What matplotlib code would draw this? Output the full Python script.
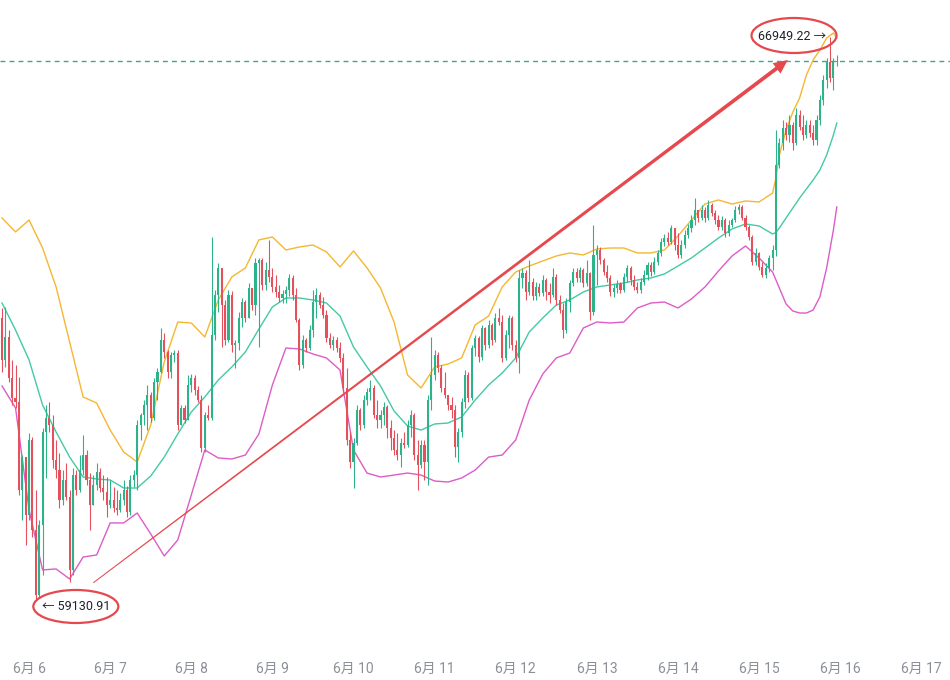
import matplotlib
matplotlib.use("Agg")
import matplotlib.pyplot as plt
import numpy as np
from matplotlib.patches import Ellipse, Polygon
from matplotlib.transforms import IdentityTransform

# hourly candles, the first one is 6月5 16:00; open of each candle = previous close
first_open = 63047
closes = [62464, 62783, 62214, 61936, 61880, 60658, 61116, 60312, 61353, 60103, 59201, 60173,
          61464, 61658, 61561, 61075, 60936, 60520, 60797, 60561, 59548, 60866, 60658, 60936,
          61144, 60797, 60451, 60728, 60908, 60686, 60630, 60451, 60520, 60409, 60381, 60520,
          60658, 60353, 60797, 60866, 61561, 61700, 61839, 61978, 61658, 62158, 62297, 62742,
          62575, 62297, 62533, 62561, 61561, 61797, 61630, 62117, 62214, 62047, 61908, 61241,
          61700, 61658, 62811, 63367, 63742, 63228, 62742, 63367, 62672, 62700, 63047, 63269,
          63047, 63464, 63228, 63811, 63853, 63506, 63714, 63617, 63478, 63408, 63325, 63381,
          63436, 63603, 63367, 63019, 62394, 62742, 62630, 62880, 63269, 63367, 63228, 63089,
          62769, 62672, 62742, 62630, 62492, 62075, 61353, 61047, 61311, 61769, 61561, 61908,
          62019, 62075, 61700, 61630, 61700, 61811, 61519, 61380, 61214, 61144, 61311, 61283,
          61561, 61700, 61144, 61005, 61283, 61047, 61908, 62255, 62533, 62353, 62075, 61978,
          61839, 61769, 61255, 61464, 61880, 62255, 61936, 62630, 62769, 62505, 62908, 62672,
          62950, 62742, 63047, 62991, 62492, 62811, 63047, 62672, 62492, 63603, 63672, 63408,
          63547, 63353, 63478, 63394, 63575, 63408, 63367, 63617, 63297, 63158, 62880, 63269,
          63533, 63686, 63603, 63714, 63533, 63672, 63130, 63922, 63992, 63853, 63686, 63603,
          63408, 63464, 63520, 63436, 63617, 63742, 63575, 63478, 63436, 63547, 63644, 63783,
          63686, 63825, 63950, 64103, 64158, 64103, 64297, 64061, 63922, 64061, 64200, 64297,
          64408, 64547, 64436, 64547, 64436, 64617, 64505, 64408, 64311, 64408, 64228, 64339,
          64408, 64547, 64589, 64436, 64311, 64172, 63825, 63950, 63756, 63644, 63742, 63881,
          63992, 65171, 65477, 65685, 65588, 65727, 65477, 65866, 65699, 65588, 65727, 65616,
          65519, 65796, 66074, 66352, 66602, 66380, 66602, 66616]
highs = [63186, 63200, 62880, 62464, 62394, 62228, 61144, 61116, 61450, 61394, 60658, 60242,
         61519, 61839, 61880, 61700, 61353, 61172, 60936, 61033, 60658, 60964, 60936, 61144,
         61422, 61214, 60894, 60866, 61033, 60964, 60866, 60839, 60797, 60700, 60658, 60616,
         60797, 60714, 60866, 60936, 61630, 61727, 61908, 62117, 62019, 62214, 62353, 62908,
         62839, 62603, 62575, 62603, 62603, 61839, 61839, 62255, 62269, 62255, 62103, 61978,
         61741, 61839, 64172, 63436, 63811, 63742, 63297, 63436, 63420, 62742, 63130, 63325,
         63297, 63533, 63464, 63881, 63881, 63881, 63825, 64131, 63742, 63644, 63506, 63436,
         63492, 63658, 63644, 63464, 63047, 62811, 62769, 62950, 63436, 63464, 63408, 63339,
         63158, 62839, 62797, 62783, 62714, 62561, 62353, 61464, 61380, 61839, 61797, 61978,
         62075, 62186, 62117, 61908, 61769, 61880, 61839, 61630, 61491, 61450, 61380, 61464,
         61630, 61769, 61727, 61353, 61353, 61353, 61978, 62783, 62603, 62575, 62394, 62297,
         61978, 61950, 61839, 61519, 61936, 62325, 62297, 62672, 62811, 62800, 62950, 62922,
         63019, 62978, 63116, 63186, 63089, 62880, 63089, 63075, 62742, 63714, 63742, 63714,
         63853, 63603, 63547, 63533, 63644, 63603, 63533, 63742, 63660, 63367, 63255, 63325,
         63575, 63742, 63742, 63756, 63742, 63853, 63686, 64339, 64061, 64033, 63881, 63783,
         63644, 63520, 63575, 63547, 63672, 63783, 63769, 63644, 63547, 63603, 63714, 63825,
         63825, 63894, 63992, 64158, 64214, 64242, 64339, 64297, 64228, 64131, 64269, 64353,
         64478, 64713, 64547, 64617, 64589, 64686, 64644, 64547, 64478, 64464, 64436, 64408,
         64436, 64603, 64630, 64617, 64478, 64339, 64200, 64019, 63964, 63825, 63811, 63922,
         64061, 65657, 65546, 65796, 65768, 65866, 65768, 65963, 65935, 65866, 65796, 65796,
         65727, 65866, 66144, 66421, 66658, 66949.22, 66658, 66699]
lows = [62297, 62367, 62158, 61839, 61797, 60589, 60242, 59895, 60242, 60006, 59130.91, 59160,
        59478, 60825, 61464, 60964, 60825, 60409, 60451, 60520, 59381, 59480, 60589, 60630,
        60866, 60728, 60103, 60451, 60658, 60630, 60520, 60284, 60409, 60353, 60312, 60353,
        60451, 60284, 60312, 60700, 60658, 61353, 61561, 61491, 61602, 61630, 61908, 62283,
        62492, 62214, 62214, 62436, 61491, 61561, 61589, 61630, 62019, 61978, 61880, 61186,
        61186, 61630, 61630, 62742, 63130, 62644, 62672, 62714, 62575, 62353, 62603, 62922,
        62991, 63047, 63158, 63089, 62644, 63436, 63436, 63547, 63408, 63339, 63269, 63255,
        63255, 63353, 63297, 62991, 62325, 62353, 62575, 62603, 62783, 63047, 63186, 63047,
        62714, 62630, 62603, 62575, 62436, 62019, 61283, 60964, 60686, 61283, 61491, 61519,
        61839, 61908, 61658, 61519, 61519, 61561, 61380, 61214, 61144, 61075, 60978, 61241,
        61255, 61394, 61075, 60658, 60964, 60797, 60728, 61769, 62186, 62297, 62019, 61936,
        61769, 61658, 61116, 61047, 61394, 61797, 61880, 61908, 62519, 62436, 62464, 62603,
        62630, 62672, 62714, 62950, 62436, 62464, 62630, 62603, 62436, 62283, 63464, 63297,
        63367, 63297, 63297, 63353, 63353, 63297, 63255, 63339, 63228, 63116, 62769, 62839,
        63130, 63492, 63547, 63547, 63478, 63492, 63019, 63089, 63506, 63797, 63644, 63547,
        63353, 63339, 63394, 63394, 63408, 63547, 63506, 63436, 63394, 63394, 63506, 63575,
        63631, 63658, 63783, 63908, 64047, 64061, 64075, 63992, 63881, 63881, 64019, 64158,
        64242, 64339, 64380, 64408, 64380, 64408, 64464, 64353, 64269, 64269, 64172, 64186,
        64311, 64380, 64492, 64408, 64269, 64131, 63783, 63783, 63714, 63617, 63603, 63686,
        63714, 63908, 65130, 65380, 65519, 65491, 65380, 65449, 65657, 65519, 65546, 65560,
        65449, 65449, 65727, 66005, 66241, 66324, 66213, 66546]

# Bollinger bands (hour index of each sample)
band_hours = list(range(0, 229, 4)) + [229, 230, 232, 234, 236, 238, 240, 242, 244, 246, 247]
upper_band = [64436, 64242, 64408, 64019, 63478, 62714, 61950, 61866, 61491, 61186, 61047, 61561,
              62436, 62991, 62978, 62783, 63297, 63617, 63742, 64131, 64172, 63992, 64033, 64061,
              63964, 63756, 63978, 63742, 63464, 62991, 62255, 62075, 62367, 62408, 62492, 62950,
              63075, 63478, 63686, 63769, 63839, 63908, 63950, 63922, 64006, 64019, 64019, 63950,
              63950, 63992, 64186, 64408, 64630, 64686, 64630, 64672, 64658, 64782,
              64991, 65310, 65657, 65907, 66102, 66421, 66630, 66769, 66935, 67005, 66935]
mid_band = [63255, 62880, 62464, 61839, 61464, 61116, 60839, 60811, 60797, 60686, 60686, 60853,
            61116, 61436, 61741, 61950, 62186, 62367, 62575, 62894, 63200, 63325, 63325, 63297,
            63255, 63075, 62644, 62367, 62103, 61755, 61547, 61491, 61575, 61589, 61672, 61908,
            62117, 62283, 62492, 62853, 63047, 63228, 63297, 63408, 63478, 63506, 63533, 63575,
            63603, 63658, 63769, 63881, 64019, 64158, 64283, 64353, 64325, 64214,
            64235, 64297, 64436, 64575, 64713, 64838, 64963, 65102, 65310, 65588, 65755]
lower_band = [62103, 61797, 60381, 59548, 59562, 59423, 59728, 59756, 60201, 60201, 60339, 60048,
              59742, 59965, 60589, 61214, 61103, 61089, 61144, 61436, 62117, 62630, 62617, 62547,
              62492, 62325, 61214, 60894, 60839, 60866, 60894, 60866, 60783, 60769, 60825, 60936,
              61116, 61144, 61353, 61908, 62269, 62492, 62561, 62908, 62991, 62978, 62991, 63186,
              63255, 63269, 63186, 63311, 63478, 63700, 63908, 64047, 63881, 63686,
              63575, 63464, 63241, 63144, 63116, 63116, 63158, 63339, 63742, 64269, 64589]

# midnight of each day, in hours from the first candle
day_hours = [8, 32, 56, 80, 104, 128, 152, 176, 200, 224, 248, 272]
day_labels = ['6月 6', '6月 7', '6月 8', '6月 9', '6月 10', '6月 11',
              '6月 12', '6月 13', '6月 14', '6月 15', '6月 16', '6月 17']

high_label = '66949.22'
low_label = '59130.91'

UP = '#2db38a'
DOWN = '#e4505c'
MARK = '#e5484d'

plt.rcParams['font.family'] = ['Roboto', 'Noto Sans CJK SC', 'DejaVu Sans']

fig = plt.figure(figsize=(9.5, 6.8), dpi=100)
ax = fig.add_axes([0, 25 / 680, 1, 655 / 680])

closes = np.array(closes, dtype=float)
highs = np.array(highs, dtype=float)
lows = np.array(lows, dtype=float)
hours = np.arange(len(closes))
opens = np.r_[first_open, closes[:-1]]
colors = np.where(closes >= opens, UP, DOWN)

# bands
ax.plot(band_hours, upper_band, color='#f5b731', lw=1.0, zorder=2)
ax.plot(band_hours, mid_band, color='#43c9a6', lw=1.0, zorder=2)
ax.plot(band_hours, lower_band, color='#dd5cc6', lw=1.0, zorder=2)

# candles
ax.vlines(hours, lows, highs, colors=colors, lw=0.8, zorder=3)
body = np.maximum(np.abs(closes - opens), 14)
ax.bar(hours, body, bottom=np.minimum(opens, closes), width=0.62,
       color=colors, linewidth=0, zorder=4)

# last price line
ax.axhline(closes[-1], color='#3aa88e', lw=1.0, ls=(0, (3.5, 3)), zorder=1)

ax.set_xlim(-0.6, 280.5)
ax.set_ylim(58367, 67463)
ax.set_yticks([])
ax.set_xticks(day_hours)
ax.set_xticklabels(day_labels)
ax.tick_params(axis='x', length=0, pad=5, labelsize=10, labelcolor='#8b8f98')
for s in ax.spines.values():
    s.set_visible(False)

# annotations: high / low labels with hand drawn ellipses
i_hi = int(np.argmax(highs))
i_lo = int(np.argmin(lows))
ax.annotate(high_label + ' →', xy=(i_hi, highs[i_hi]), xytext=(-4, 0),
            textcoords='offset pixels', ha='right', va='center',
            fontsize=9, color='#1e2329', zorder=7)
ax.annotate('← ' + low_label, xy=(i_lo, lows[i_lo]), xytext=(6, -7),
            textcoords='offset pixels', ha='left', va='center',
            fontsize=9, color='#1e2329', zorder=7)

hx, hy = ax.transData.transform((i_hi, highs[i_hi]))
lx, ly = ax.transData.transform((i_lo, lows[i_lo]))
ax.add_patch(Ellipse((hx - 36, hy + 1.5), 85, 35, transform=IdentityTransform(),
                     fill=False, edgecolor=MARK, lw=1.6, zorder=8))
ax.add_patch(Ellipse((lx + 40, ly - 6.5), 85, 33, transform=IdentityTransform(),
                     fill=False, edgecolor=MARK, lw=1.6, zorder=8))

# tapered arrow from near the low up to the high
s = ax.transData.transform((27, 59370))
e = ax.transData.transform((232.5, 66630))
u = (e - s) / np.hypot(*(e - s))
n = np.array([-u[1], u[0]])
head_len, head_w = 14, 6.5
b = e - u * head_len
pts = [s + n * 0.5, b + n * 1.9, b + n * head_w, e,
       b - n * head_w, b - n * 1.9, s - n * 0.5]
ax.add_patch(Polygon(pts, closed=True, transform=IdentityTransform(),
                     facecolor=MARK, edgecolor='none', zorder=6))

fig.savefig('out.png', dpi=100)
